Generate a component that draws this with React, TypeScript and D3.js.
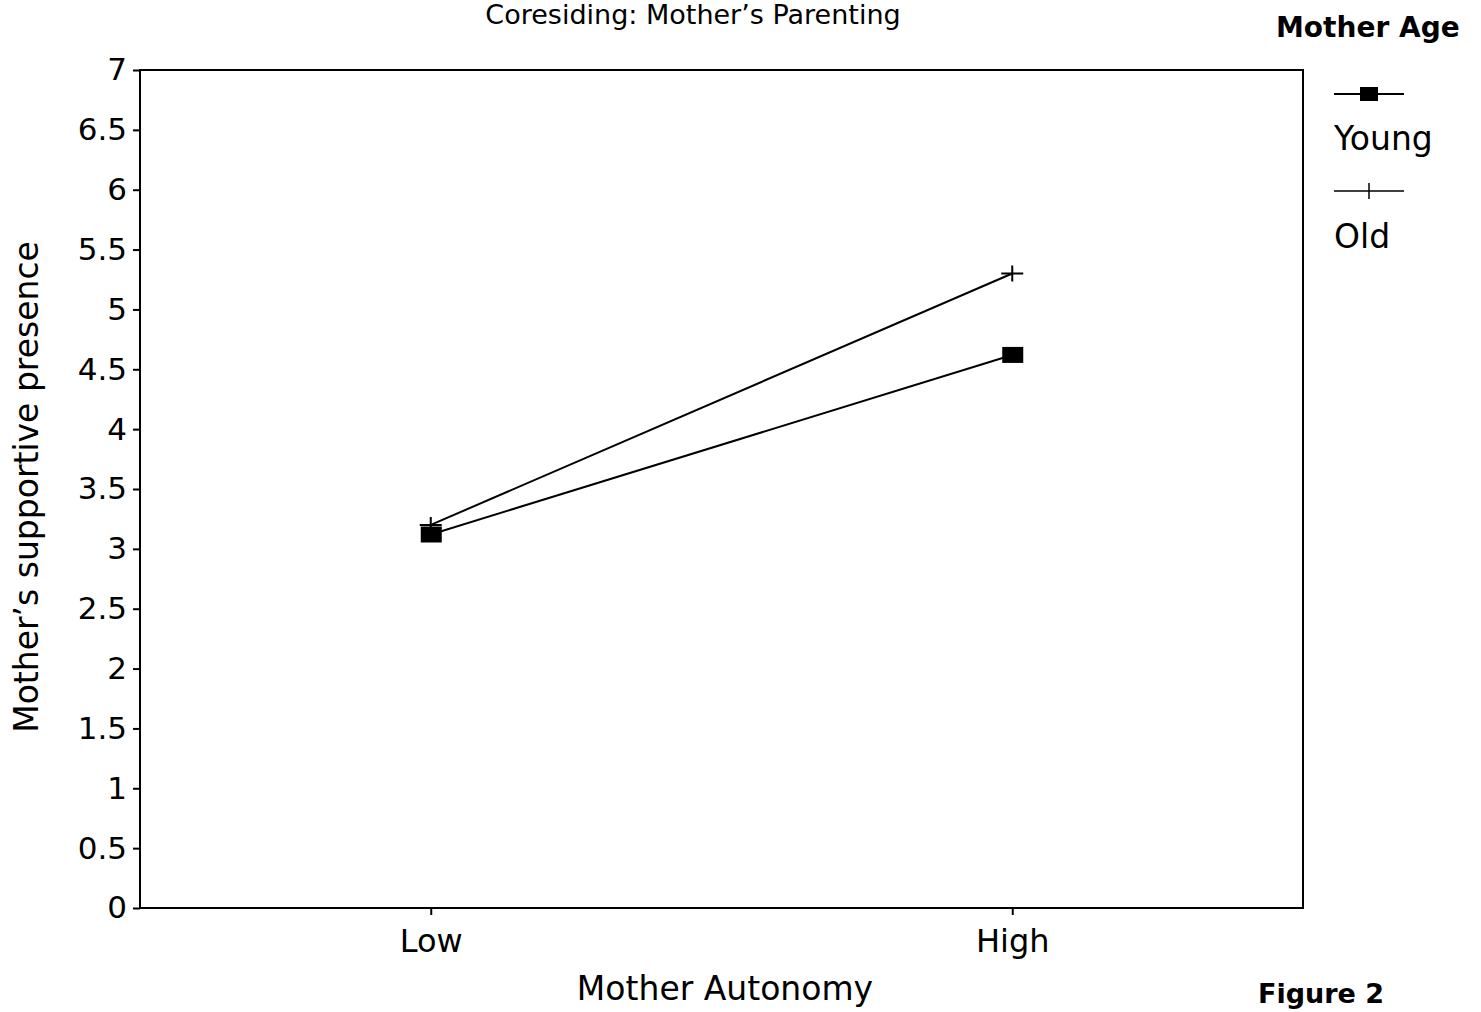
import React, { useRef, useEffect } from 'react';
import * as d3 from 'd3';

// categories on the x axis
const autonomy = ['Low', 'High'];
// series values (Mother's supportive presence)
const youngValues = [3.12, 4.62];
const oldValues = [3.2, 5.3];
const yTicks = [0, 0.5, 1, 1.5, 2, 2.5, 3, 3.5, 4, 4.5, 5, 5.5, 6, 6.5, 7];

const W = 1481;
const H = 1012;
const FONT = 'DejaVu Sans, Verdana, sans-serif';

const App = () => {
    const ref = useRef<SVGSVGElement | null>(null);

    useEffect(() => {
        const svg = d3.select(ref.current);
        svg.selectAll('*').remove();

        const left = 140, right = 1303, top = 70, bottom = 908;

        const x = d3.scalePoint().domain(autonomy).range([left, right]).padding(0.5);
        const y = d3.scaleLinear().domain([0, 7]).range([bottom, top]);

        // plot frame
        svg.append('rect')
            .attr('x', left).attr('y', top)
            .attr('width', right - left).attr('height', bottom - top)
            .attr('fill', 'none').attr('stroke', '#000').attr('stroke-width', 2);

        // y axis
        const yAxis = svg.append('g')
            .attr('transform', `translate(${left},0)`)
            .call(d3.axisLeft(y).tickValues(yTicks).tickSize(7).tickPadding(6)
                .tickFormat(d => String(d)));
        yAxis.select('.domain').remove();
        yAxis.selectAll('line').attr('stroke', '#000').attr('stroke-width', 2);
        yAxis.selectAll('text')
            .attr('font-family', FONT).attr('font-size', 31).attr('fill', '#000');

        // x axis
        const xAxis = svg.append('g')
            .attr('transform', `translate(0,${bottom})`)
            .call(d3.axisBottom(x).tickSize(7).tickPadding(14));
        xAxis.select('.domain').remove();
        xAxis.selectAll('line').attr('stroke', '#000').attr('stroke-width', 2);
        xAxis.selectAll('text')
            .attr('font-family', FONT).attr('font-size', 32).attr('fill', '#000');

        const line = d3.line<number>()
            .x((_, i) => x(autonomy[i]) as number)
            .y(d => y(d));

        // Old series
        svg.append('path')
            .datum(oldValues)
            .attr('d', line)
            .attr('fill', 'none').attr('stroke', '#000').attr('stroke-width', 2);
        svg.selectAll('.old-mark')
            .data(oldValues)
            .enter().append('path')
            .attr('class', 'old-mark')
            .attr('transform', (d, i) => `translate(${x(autonomy[i])},${y(d)})`)
            .attr('d', 'M-11,0H11M0,-8V8')
            .attr('stroke', '#000').attr('stroke-width', 2);

        // Young series
        svg.append('path')
            .datum(youngValues)
            .attr('d', line)
            .attr('fill', 'none').attr('stroke', '#000').attr('stroke-width', 2);
        svg.selectAll('.young-mark')
            .data(youngValues)
            .enter().append('rect')
            .attr('class', 'young-mark')
            .attr('x', (d, i) => (x(autonomy[i]) as number) - 10)
            .attr('y', d => y(d) - 8)
            .attr('width', 21).attr('height', 16)
            .attr('fill', '#000');

        // titles
        svg.append('text')
            .attr('x', 693).attr('y', 24)
            .attr('text-anchor', 'middle')
            .attr('font-family', FONT).attr('font-size', 27)
            .text('Coresiding:  Mother\u2019s Parenting');

        svg.append('text')
            .attr('x', 725).attr('y', 1000)
            .attr('text-anchor', 'middle')
            .attr('font-family', FONT).attr('font-size', 33)
            .text('Mother Autonomy');

        svg.append('text')
            .attr('transform', `translate(38,487) rotate(-90)`)
            .attr('text-anchor', 'middle')
            .attr('font-family', FONT).attr('font-size', 33)
            .text('Mother\u2019s supportive presence');

        svg.append('text')
            .attr('x', 1258).attr('y', 1003)
            .attr('font-family', FONT).attr('font-size', 27).attr('font-weight', 'bold')
            .text('Figure 2');

        // legend
        const lg = svg.append('g');
        lg.append('text')
            .attr('x', 1276).attr('y', 37)
            .attr('font-family', FONT).attr('font-size', 28).attr('font-weight', 'bold')
            .text('Mother Age');

        lg.append('line')
            .attr('x1', 1334).attr('x2', 1404).attr('y1', 94).attr('y2', 94)
            .attr('stroke', '#000').attr('stroke-width', 2);
        lg.append('rect')
            .attr('x', 1360).attr('y', 87).attr('width', 18).attr('height', 14)
            .attr('fill', '#000');
        lg.append('text')
            .attr('x', 1334).attr('y', 150)
            .attr('font-family', FONT).attr('font-size', 33)
            .text('Young');

        lg.append('line')
            .attr('x1', 1334).attr('x2', 1404).attr('y1', 191).attr('y2', 191)
            .attr('stroke', '#000').attr('stroke-width', 1.5);
        lg.append('line')
            .attr('x1', 1369).attr('x2', 1369).attr('y1', 183).attr('y2', 199)
            .attr('stroke', '#000').attr('stroke-width', 1.5);
        lg.append('text')
            .attr('x', 1334).attr('y', 248)
            .attr('font-family', FONT).attr('font-size', 33)
            .text('Old');
    }, []);

    return (
        <svg ref={ref} width={W} height={H}
            style={{ position: 'absolute', left: 0, top: 0, background: '#fff' }} />
    );
};

export default App;
